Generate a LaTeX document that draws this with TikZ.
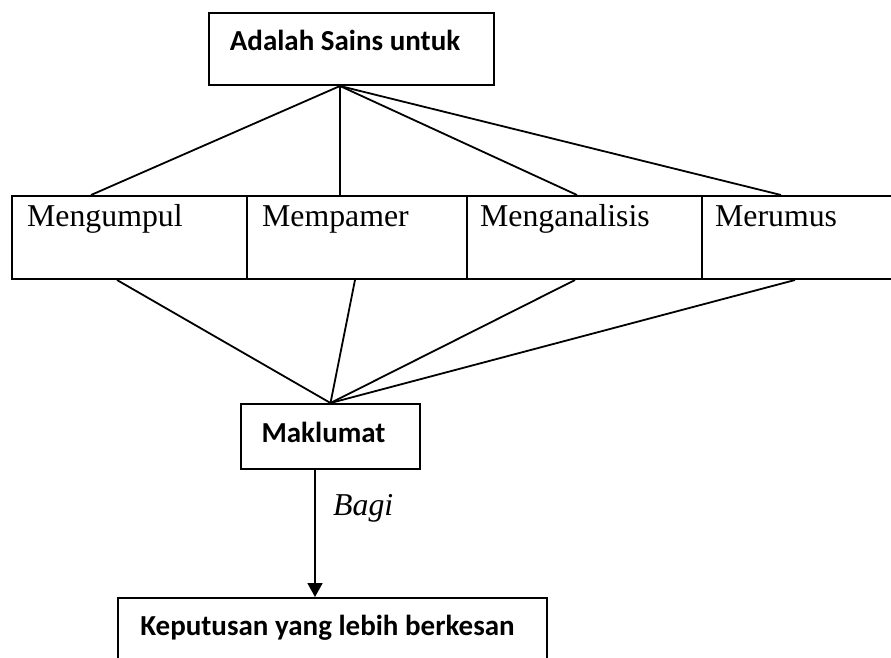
\documentclass[tikz,border=0pt]{standalone}
\usepackage{fontspec}
\setmainfont{Liberation Serif}
\newfontfamily\calibri{Carlito}
\usetikzlibrary{arrows.meta,calc}

\begin{document}
\begin{tikzpicture}[x=1pt,y=-1pt,
  frame/.style={draw,line width=2pt,rectangle,inner sep=0pt,anchor=north west},
  link/.style={line width=1.8pt},
  serif/.style={font=\fontsize{31.8}{38}\selectfont,inner sep=0pt},
  heading/.style={font=\calibri\bfseries\fontsize{29}{35}\selectfont,inner sep=0pt}]
\clip (0,0) rectangle (891,657);
\fill[white] (0,0) rectangle (891,657);

% title box
\node[frame,minimum width=285pt,minimum height=72pt] (top) at (208,12) {};
\node[heading,anchor=base] (toptext) at (345,50) {Adalah Sains untuk};

% row of four activities
\node[frame,minimum width=235pt,minimum height=83pt] (c1) at (11,195) {};
\node[frame,minimum width=220pt,minimum height=83pt] (c2) at (246,195) {};
\node[frame,minimum width=235pt,minimum height=83pt] (c3) at (466,195) {};
\node[frame,minimum width=220pt,minimum height=83pt] (c4) at (701,195) {};
\node[serif,anchor=base west] (t1) at (27,226) {Mengumpul};
\node[serif,anchor=base west] (t2) at (262,226) {Mempamer};
\node[serif,anchor=base west] (t3) at (480,226) {Menganalisis};
\node[serif,anchor=base west] (t4) at (715,226) {Merumus};

% information box
\node[frame,minimum width=179pt,minimum height=65pt] (mak) at (240,403) {};
\node[heading,anchor=base] (maktext) at (323.5,442) {Maklumat};

% decision box
\node[frame,minimum width=429pt,minimum height=100pt] (kep) at (117,597) {};
\node[heading,anchor=base] (keptext) at (327.5,635) {Keputusan yang lebih berkesan};

% fan-out from the title box
\coordinate (apex) at ($(top.south west)+(132,0)$);
\draw[link] (apex) -- ($(c1.north west)+(80,0)$);
\draw[link] (apex) -- ($(c2.north west)+(94,0)$);
\draw[link] (apex) -- ($(c3.north west)+(111,0)$);
\draw[link] (apex) -- ($(c4.north west)+(80,0)$);

% fan-in to the information box
\draw[link] ($(c1.south west)+(106,0)$) -- (mak.north);
\draw[link] ($(c2.south west)+(109,0)$) -- (mak.north);
\draw[link] ($(c3.south west)+(109,0)$) -- (mak.north);
\draw[link] ($(c4.south west)+(94,0)$) -- (mak.north);

% arrow to the decision box
\coordinate (from) at ($(mak.south west)+(75,0)$);
\draw[link,-{Triangle[width=15pt,length=14pt]}] (from) -- (from |- kep.north);
\node[serif,font=\fontsize{31.8}{38}\selectfont\itshape,anchor=base west] (bagi) at (333,515) {Bagi};
\end{tikzpicture}
\end{document}
